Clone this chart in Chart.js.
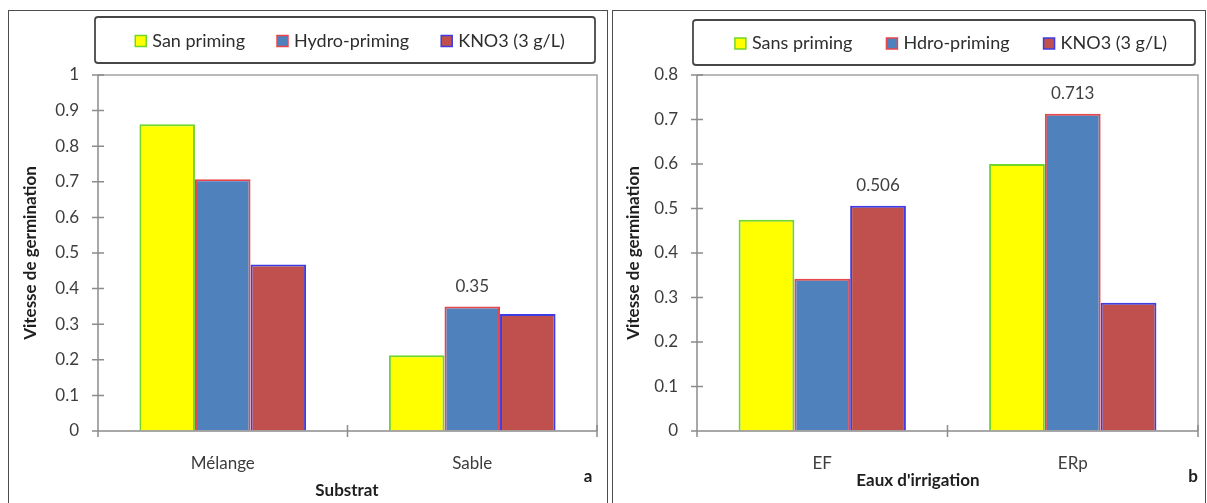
<!DOCTYPE html>
<html>
<head>
<meta charset="utf-8">
<title>Vitesse de germination</title>
<script src="https://cdn.jsdelivr.net/npm/chart.js@4.4.1/dist/chart.umd.min.js"></script>
<style>
  html, body { margin: 0; padding: 0; background: #fff; }
  body { width: 1207px; height: 503px; position: relative; overflow: hidden; }
  .panel { position: absolute; box-sizing: border-box; border: 1.5px solid #4d4d4d; }
  #panelA { left: 8px; top: 10px; width: 600px; height: 520px; }
  #panelB { left: 612px; top: 10px; width: 594px; height: 520px; }
  .wrap { position: absolute; top: 0; width: 607px; height: 503px; }
  #wrapA { left: 0; }
  #wrapB { left: 600px; }
</style>
</head>
<body>
<div class="panel" id="panelA"></div>
<div class="panel" id="panelB"></div>
<div class="wrap" id="wrapA"><canvas id="chartA" width="607" height="503"></canvas></div>
<div class="wrap" id="wrapB"><canvas id="chartB" width="607" height="503"></canvas></div>

<script>
// ---- (a) germination speed by substrate ----
const substrats = ['Mélange', 'Sable'];
const seriesNamesA = ['San priming', 'Hydro-priming', 'KNO3 (3 g/L)'];
const sansPrimingA = [0.862, 0.213];
const hydroPrimingA = [0.707, 0.35];
const kno3A = [0.468, 0.329];
const yMaxA = 1;
// bars that carry a value label: [series index, category index]
const valueLabelsA = [[1, 1]];

// ---- (b) germination speed by irrigation water ----
const eaux = ['EF', 'ERp'];
const seriesNamesB = ['Sans priming', 'Hdro-priming', 'KNO3 (3 g/L)'];
const sansPrimingB = [0.475, 0.6];
const hydroPrimingB = [0.342, 0.713];
const kno3B = [0.506, 0.288];
const yMaxB = 0.8;
const valueLabelsB = [[2, 0], [1, 1]];

const yStep = 0.1;
const yTitle = 'Vitesse de germination';

const fills = ['#ffff00', '#4f81bd', '#c0504d'];
const edges = ['#6fd62a', '#e8464a', '#3c3ce6'];

Chart.defaults.font.family = 'Lato, "Open Sans", sans-serif';
Chart.defaults.font.size = 17;
Chart.defaults.color = '#3d3d3d';

// plot frame, axes and cross tick marks
const axisMarks = {
  id: 'axisMarks',
  afterDatasetsDraw(chart) {
    const { ctx, chartArea: a, scales: { x, y } } = chart;
    const t = 6;
    ctx.save();
    ctx.lineWidth = 1.5;
    ctx.strokeStyle = '#a3a3a3';
    ctx.beginPath();
    ctx.moveTo(a.left, a.top); ctx.lineTo(a.right, a.top); ctx.lineTo(a.right, a.bottom);
    ctx.stroke();
    ctx.strokeStyle = '#8c8c8c';
    ctx.beginPath();
    ctx.moveTo(a.left, a.top); ctx.lineTo(a.left, a.bottom); ctx.lineTo(a.right, a.bottom);
    y.ticks.forEach((tk, i) => {
      const py = y.getPixelForTick(i);
      ctx.moveTo(a.left - t, py); ctx.lineTo(a.left + t, py);
    });
    const n = x.ticks.length;
    for (let i = 0; i <= n; i++) {
      const px = a.left + (a.right - a.left) * i / n;
      ctx.moveTo(px, a.bottom - t); ctx.lineTo(px, a.bottom + t);
    }
    ctx.stroke();
    ctx.restore();
  }
};

// value labels above selected bars, text taken from the bar's own value
const barValues = {
  id: 'barValues',
  afterDatasetsDraw(chart, args, o) {
    const ctx = chart.ctx;
    ctx.save();
    ctx.font = '17px Lato, "Open Sans", sans-serif';
    ctx.fillStyle = '#404040';
    ctx.textAlign = 'center';
    ctx.textBaseline = 'middle';
    (o.marks || []).forEach(([d, i]) => {
      const bar = chart.getDatasetMeta(d).data[i];
      const v = chart.data.datasets[d].data[i];
      ctx.fillText(String(v), bar.x, bar.y - 20);
    });
    ctx.restore();
  }
};

// framed legend row above the plot
const framedLegend = {
  id: 'framedLegend',
  afterDraw(chart, args, o) {
    const ctx = chart.ctx;
    const { x, y, w, h } = o.box;
    ctx.save();
    ctx.strokeStyle = '#474747';
    ctx.lineWidth = 1.8;
    ctx.beginPath();
    ctx.roundRect(x, y, w, h, 3);
    ctx.stroke();
    ctx.font = '18px Lato, "Open Sans", sans-serif';
    const sq = 11, textGap = 6;
    const items = chart.data.datasets.map(ds => ({ ds, tw: ctx.measureText(ds.label).width }));
    const total = items.reduce((s, it) => s + sq + textGap + it.tw, 0) + o.gap * (items.length - 1);
    let cx = x + w / 2 + o.shift - total / 2;
    const cy = y + h / 2 + 1;
    items.forEach(it => {
      ctx.fillStyle = it.ds.backgroundColor;
      ctx.fillRect(cx, cy - sq / 2, sq, sq);
      ctx.strokeStyle = it.ds.borderColor;
      ctx.lineWidth = 1.5;
      ctx.strokeRect(cx, cy - sq / 2, sq, sq);
      ctx.fillStyle = '#2e2e2e';
      ctx.textAlign = 'left';
      ctx.textBaseline = 'middle';
      ctx.fillText(it.ds.label, cx + sq + textGap, cy);
      cx += sq + textGap + it.tw + o.gap;
    });
    ctx.restore();
  }
};

// x-axis title and panel letter
const captions = {
  id: 'captions',
  afterDraw(chart, args, o) {
    const ctx = chart.ctx;
    ctx.save();
    ctx.fillStyle = '#1e1e1e';
    ctx.textAlign = 'center';
    ctx.textBaseline = 'middle';
    (o.items || []).forEach(it => {
      ctx.font = 'bold ' + it.size + 'px Lato, "Open Sans", sans-serif';
      ctx.fillText(it.text, it.x, it.y);
    });
    ctx.restore();
  }
};

function makeDatasets(names, series) {
  return names.map((name, k) => ({
    label: name,
    data: series[k],
    backgroundColor: fills[k],
    borderColor: edges[k],
    borderWidth: 2,
    categoryPercentage: 0.668,
    barPercentage: 1.0
  }));
}

function makeChart(canvasId, labels, datasets, yMax, cfg) {
  return new Chart(document.getElementById(canvasId), {
    type: 'bar',
    data: { labels, datasets },
    plugins: [axisMarks, barValues, framedLegend, captions],
    options: {
      responsive: false,
      animation: false,
      locale: 'en-US',
      layout: { padding: { left: cfg.padLeft, right: cfg.padRight, top: 75, bottom: 0 } },
      scales: {
        x: {
          grid: { display: true, drawOnChartArea: false, drawTicks: false },
          border: { display: false },
          ticks: { padding: 22, color: '#3d3d3d' },
          afterFit: s => { s.height = cfg.xHeight; }
        },
        y: {
          min: 0,
          max: yMax,
          grid: { display: true, drawOnChartArea: false, drawTicks: false },
          border: { display: false },
          ticks: {
            stepSize: yStep,
            padding: 19,
            color: '#3d3d3d',
            callback: v => String(Number(v.toFixed(1)))
          },
          title: {
            display: true,
            text: yTitle,
            color: '#1e1e1e',
            font: { size: 17, weight: 'bold' },
            padding: { top: 4, bottom: 4 }
          },
          afterFit: s => { s.width = cfg.yWidth; }
        }
      },
      plugins: {
        legend: { display: false },
        tooltip: { enabled: false },
        barValues: { marks: cfg.marks },
        framedLegend: cfg.legend,
        captions: { items: cfg.captions }
      }
    }
  });
}

makeChart('chartA', substrats,
  makeDatasets(seriesNamesA, [sansPrimingA, hydroPrimingA, kno3A]), yMaxA, {
    padLeft: 16, padRight: 10, yWidth: 82, xHeight: 72,
    marks: valueLabelsA,
    legend: { box: { x: 95, y: 17, w: 500, h: 46 }, gap: 32, shift: 5 },
    captions: [
      { text: 'Substrat', x: 347, y: 491, size: 17 },
      { text: 'a', x: 588, y: 477, size: 17 }
    ]
  });

makeChart('chartB', eaux,
  makeDatasets(seriesNamesB, [sansPrimingB, hydroPrimingB, kno3B]), yMaxB, {
    padLeft: 19, padRight: 9, yWidth: 78, xHeight: 72,
    marks: valueLabelsB,
    legend: { box: { x: 93, y: 20, w: 502, h: 45 }, gap: 34, shift: 7 },
    captions: [
      { text: "Eaux d'irrigation", x: 318, y: 481, size: 17 },
      { text: 'b', x: 593, y: 477, size: 17 }
    ]
  });
</script>
</body>
</html>
